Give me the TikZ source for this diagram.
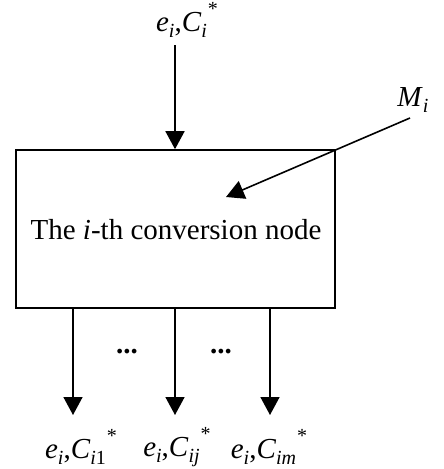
\documentclass[tikz,border=0pt]{standalone}
\usepackage{fontspec}
\setmainfont{Liberation Serif}
\usetikzlibrary{arrows.meta}
\newcommand\sbx[1]{\raisebox{-0.22em}{\fontsize{20}{22}\selectfont #1}}
\newcommand\spx{\raisebox{0.55em}{\fontsize{20}{22}\selectfont *}}
\newcommand\lbl[1]{\textit{e}\sbx{\textit{i}},\textit{C}\sbx{#1}\kern1pt\spx}
\begin{document}
\begin{tikzpicture}[x=1pt,y=-1pt,
  arr/.style={draw,line width=1.6pt,-{Triangle[width=19pt,length=18pt]}},
  boxst/.style={draw,line width=1.6pt,minimum width=319pt,minimum height=158pt,inner sep=0pt},
  txt/.style={font=\fontsize{29}{32}\selectfont,inner sep=0pt}]
\useasboundingbox (0,0) rectangle (444,469);
\node[boxst] (box) at (175.5,229) {};
\node[txt] (title) at (176,230) {The \textit{i}-th conversion node};
\node[txt] (top) at (187,20) {\lbl{\textit{i}}};
\coordinate (topend) at (175,45);
\node[txt] (m) at (413,100) {\textit{M}\sbx{\textit{i}}};
\coordinate (mstart) at (410,118);
\coordinate (mtip) at (226,197);
\draw[arr] (topend) -- (box.north -| topend);
\draw[arr] (mstart) -- (mtip);
\coordinate (b1) at (73,415);
\coordinate (b2) at (175,415);
\coordinate (b3) at (270,415);
\draw[arr] (box.south -| b1) -- (b1);
\draw[arr] (box.south -| b2) -- (b2);
\draw[arr] (box.south -| b3) -- (b3);
\node[txt] (d1) at (127,352) {\textbf{...}};
\node[txt] (d2) at (221,352) {\textbf{...}};
\node[txt] (l1) at (81,447) {\lbl{\textit{i}1}};
\node[txt] (l2) at (177,447) {\lbl{\textit{ij}}};
\node[txt] (l3) at (269,447) {\lbl{\textit{im}}};
\end{tikzpicture}
\end{document}
